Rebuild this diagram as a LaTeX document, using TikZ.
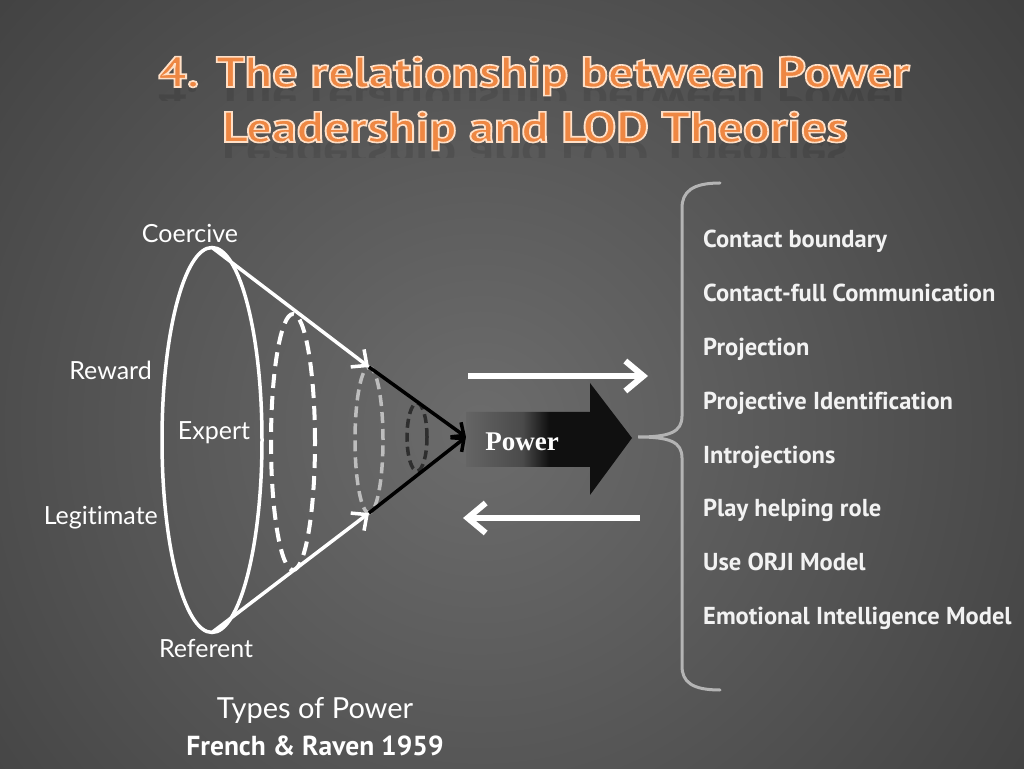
\documentclass[tikz,border=0pt]{standalone}
\usepackage{fontspec}
\setmainfont{Lato}[Ligatures={NoCommon}]
\newfontfamily\headfont{PT Sans}[Ligatures={NoCommon}]
\newfontfamily\listfont{PT Sans}[Ligatures={NoCommon}]
\newfontfamily\powerfont{Liberation Serif}
\usetikzlibrary{arrows.meta,shapes.geometric}

\definecolor{bglight}{HTML}{6C6C6C}
\definecolor{bgdark}{HTML}{1E1E1E}
\definecolor{titleorange}{HTML}{EE8743}
\definecolor{bracegray}{HTML}{B4B4B4}
\definecolor{ringgray}{HTML}{BDBDBD}
\definecolor{ringdark}{HTML}{2E2E2E}
\definecolor{listwhite}{HTML}{F2F2F2}
\definecolor{powerlight}{HTML}{8C8C8C}
\definecolor{powermid}{HTML}{4A4A4A}
\definecolor{powerdark}{HTML}{101010}

\pgfdeclareradialshading{slideglow}{\pgfpoint{0bp}{0bp}}{%
  color(0bp)=(bglight); color(38bp)=(bgdark); color(50bp)=(bgdark)}
\pgfdeclarehorizontalshading{powerfade}{100bp}{%
  color(0bp)=(powerlight); color(42bp)=(powermid);
  color(50bp)=(powerdark); color(100bp)=(powerdark)}

% orange letters with a pale rim
\newcommand\rimtext[1]{\special{pdf:code 2 Tr 1.6 w 1 0.88 0.78 RG}#1\special{pdf:code 0 Tr}}

\tikzset{
  headline/.style={
    text=titleorange,
    inner sep=0pt,
    anchor=base,
    xscale=1.17,
    transform shape,
    font=\headfont\bfseries\fontsize{43}{48}\selectfont
  },
  mirror/.style={
    headline,
    yscale=-1,
    text=black,
    opacity=.1
  },
  conelabel/.style={
    text=white,
    inner sep=0pt,
    anchor=base,
    font=\fontsize{25}{29}\selectfont
  },
  listitem/.style={
    text=listwhite,
    inner sep=0pt,
    anchor=base west,
    font=\listfont\bfseries\fontsize{24.5}{28}\selectfont
  },
  outerring/.style={
    draw=white,
    line width=3.5pt,
    ellipse,
    inner sep=0pt,
    outer sep=0pt
  },
  dashring/.style={
    draw=#1,
    line width=4pt,
    dash pattern=on 14pt off 8pt,
    ellipse,
    inner sep=0pt,
    outer sep=0pt
  },
  whitearrow/.style={
    draw=white,
    line width=3.5pt,
    -{Straight Barb[length=12pt,width=22pt]}
  },
  blackarrow/.style={
    draw=black,
    line width=3.5pt,
    -{Straight Barb[length=10pt,width=18pt]}
  },
  flowarrow/.style={
    draw=white,
    line width=6pt,
    -{Straight Barb[length=18pt,width=30pt]}
  },
  bracket/.style={
    draw=bracegray,
    line width=3pt,
    line cap=round
  }
}

\begin{document}
\begin{tikzpicture}[x=1pt, y=1pt]
  \useasboundingbox (0,0) rectangle (1024,768);

  % backdrop
  \begin{scope}
    \clip (0,0) rectangle (1024,768);
    \shade[shading=slideglow] (480,340) circle (800);
  \end{scope}

  % heading and its faint reflection
  \begin{scope}
    \clip (100,681) rectangle (960,667);
    \node[mirror] (mirror1) at (534,681) {4. The relationship between Power};
  \end{scope}
  \begin{scope}
    \clip (100,626) rectangle (960,610);
    \node[mirror] (mirror2) at (535,626) {Leadership and LOD Theories};
  \end{scope}
  \node[headline] (title1) at (534,681) {\rimtext{4. The relationship between Power}};
  \node[headline] (title2) at (535,626) {\rimtext{Leadership and LOD Theories}};

  % cone of power
  \node[outerring, minimum width=100pt, minimum height=385pt] (outer) at (212,328) {};
  \node[dashring=white, minimum width=44pt, minimum height=256pt] (ring1) at (293,326) {};
  \node[dashring=ringgray, line width=3.5pt, dash pattern=on 11pt off 6pt, minimum width=28pt, minimum height=146pt] (ring2) at (369,328) {};
  \node[dashring=ringdark, line width=3.5pt, dash pattern=on 9pt off 5pt, minimum width=20pt, minimum height=68pt] (ring3) at (417,331) {};
  \coordinate (apex) at (466,331);

  \draw[whitearrow] (outer.north) -- (ring2.north);
  \draw[whitearrow] (outer.south) -- (ring2.south);
  \draw[blackarrow] (ring2.north) -- (apex);
  \draw[blackarrow] (ring2.south) -- (apex);

  \node[conelabel] (coercive) at (190,525) {Coercive};
  \node[conelabel, anchor=base east] (reward) at (152,388) {Reward};
  \node[conelabel] (expert) at (214,328) {Expert};
  \node[conelabel, anchor=base east] (legitimate) at (158,243) {Legitimate};
  \node[conelabel] (referent) at (206,111) {Referent};

  \node[conelabel, font=\fontsize{29}{33}\selectfont] (types) at (315,50) {Types of Power};
  \node[conelabel, font=\listfont\bfseries\fontsize{27.5}{31}\selectfont] (source) at (315,13) {French \& Raven 1959};

  % power block arrow
  \shade[shading=powerfade] (466,356) -- (590,356) -- (590,385) -- (632,330)
    -- (590,273) -- (590,301) -- (466,301) -- cycle;
  \node[text=white, inner sep=0pt, anchor=base,
    font=\powerfont\bfseries\fontsize{27}{30}\selectfont] (power) at (522,317) {Power};

  % two way flow
  \coordinate (fwdstart) at (468,392);
  \coordinate (fwdend) at (648,392);
  \coordinate (backstart) at (640,250);
  \coordinate (backend) at (463,250);
  \draw[flowarrow] (fwdstart) -- (fwdend);
  \draw[flowarrow] (backstart) -- (backend);

  % bracket
  \coordinate (bracetop) at (720,585);
  \coordinate (bracetip) at (638,331);
  \coordinate (bracebottom) at (720,78);
  \draw[bracket] (bracetop) .. controls +(-28,0) and +(0,16) .. (682,560)
    -- (682,352) .. controls +(0,-16) and +(32,0) .. (bracetip)
    .. controls +(32,0) and +(0,16) .. (682,310)
    -- (682,102) .. controls +(0,-16) and +(-28,0) .. (bracebottom);

  % LOD theories
  \node[listitem] (item1) at (703,520) {Contact boundary};
  \node[listitem] (item2) at (703,466) {Contact-full Communication};
  \node[listitem] (item3) at (703,412) {Projection};
  \node[listitem] (item4) at (703,358) {Projective Identification};
  \node[listitem] (item5) at (703,304) {Introjections};
  \node[listitem] (item6) at (703,251) {Play helping role};
  \node[listitem] (item7) at (703,197) {Use ORJI Model};
  \node[listitem] (item8) at (703,143) {Emotional Intelligence Model};

\end{tikzpicture}
\end{document}
